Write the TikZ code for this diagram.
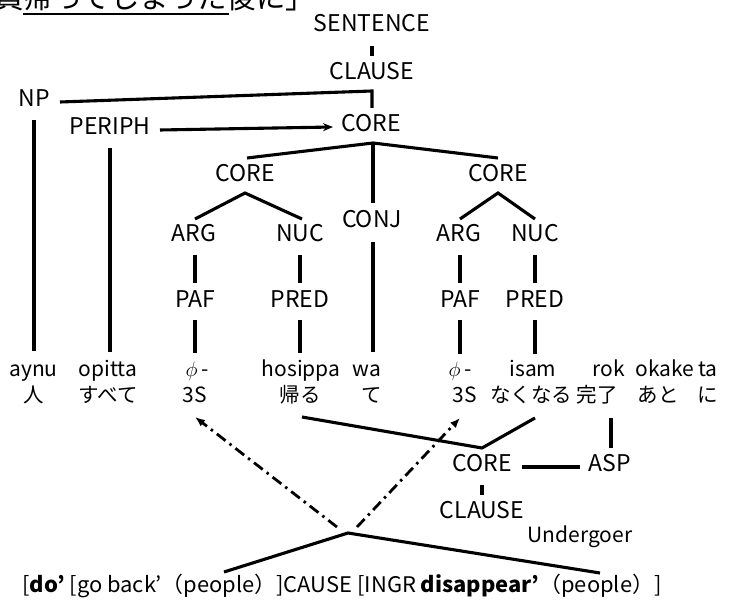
\documentclass[tikz,border=0pt]{standalone}
\usepackage{fontspec}
\usepackage{graphicx}
\setmainfont{Noto Sans CJK JP}
\newfontfamily\jpfont{Noto Sans CJK JP}
\usetikzlibrary{arrows.meta}
\begin{document}
\begin{tikzpicture}[x=1pt,y=-1pt,
  lbl/.style={anchor=base, inner sep=0pt, font=\fontsize{23}{27}\selectfont},
  word/.style={anchor=base, inner sep=0pt, font=\fontsize{21}{25}\selectfont},
  gloss/.style={anchor=base, inner sep=0pt, font=\jpfont\fontsize{20.5}{25}\selectfont},
  edge/.style={line width=3.1pt},
  dd/.style={line width=2.8pt, dash pattern=on 11pt off 5pt on 2.5pt off 5pt,
             -{Latex[length=10pt,width=8pt]}},
  sem/.style={anchor=base west, inner sep=0pt, font=\fontsize{21.5}{25}\selectfont}
]
\useasboundingbox (0,0) rectangle (729,601);

% heading line (partly cut off at the top)
\node[anchor=base west, inner sep=0pt, font=\jpfont\fontsize{29.4}{32}\selectfont] (head) at (-6,9) {員帰ってしまった後に」};
\draw[line width=1.6pt] ([xshift=29.4pt,yshift=-5pt]head.base west) -- ([xshift=235pt,yshift=-5pt]head.base west);

% tree labels
\node[lbl] (sent)    at (372,32)  {SENTENCE};
\node[lbl] (clauseT) at (372,80)  {CLAUSE};
\node[lbl] (np)      at (34,107)  {NP};
\node[lbl] (coreT)   at (371,132) {CORE};
\node[lbl] (periph)  at (110,135) {PERIPH};
\node[lbl] (coreL)   at (245,182) {CORE};
\node[lbl] (coreR)   at (498,182) {CORE};
\node[lbl] (conj)    at (372,228) {CONJ};
\node[lbl] (argL)    at (194,242) {ARG};
\node[lbl] (nucL)    at (300,242) {NUC};
\node[lbl] (argR)    at (459,242) {ARG};
\node[lbl] (nucR)    at (535,242) {NUC};
\node[lbl] (pafL)    at (195,308) {PAF};
\node[lbl] (predL)   at (300,308) {PRED};
\node[lbl] (pafR)    at (460,308) {PAF};
\node[lbl] (predR)   at (535,308) {PRED};

% Ainu words
\node[word] (w1)  at (33.5,377) {aynu};
\node[word] (w2)  at (108,377)  {opitta};
\node[word] (w3)  at (197,377)  {$\phi$\,-};
\node[word] (w4)  at (301,377)  {hosippa};
\node[word] (w5)  at (367,377)  {wa};
\node[word] (w6)  at (460,377)  {$\phi$\,-};
\node[word] (w7)  at (533,377)  {isam};
\node[word] (w8)  at (609,377)  {rok};
\node[word] (w9)  at (665,377)  {okake};
\node[word] (w10) at (708,377)  {ta};

% glosses
\node[gloss] (g1)  at (34,403)  {人};
\node[gloss] (g2)  at (108,403) {すべて};
\node[word]  (g3)  at (195,403) {3S};
\node[gloss] (g4)  at (300,403) {帰る};
\node[gloss] (g5)  at (372,403) {て};
\node[word]  (g6)  at (465,403) {3S};
\node[gloss] (g7)  at (531,403) {なくなる};
\node[gloss] (g8)  at (597,403) {完了};
\node[gloss] (g9)  at (658,403) {あと};
\node[gloss] (g10) at (708,403) {に};

% operator projection
\node[lbl] (coreB)   at (482,472) {CORE};
\node[lbl] (asp)     at (610,472) {ASP};
\node[lbl] (clauseB) at (482,519) {CLAUSE};
\node[word] (underg) at (580,543) {Undergoer};

% logical structure
\node[sem] (sem) at (22,593) {\scalebox{1.02}[1]{[\textbf{do’} [go back’（people）]CAUSE [INGR \textbf{disappear’}（people）]}};

% upper tree
\draw[edge] ([yshift=-14pt]sent.base) -- ([yshift=24pt]clauseT.base);
\coordinate (npj) at (372,91);
\draw[edge] ([xshift=26pt,yshift=5pt]np.base) -- (npj) -- ([xshift=1pt,yshift=24pt]coreT.base);
\draw[edge,-{Stealth[length=10pt,width=8pt]}] ([xshift=50pt,yshift=5pt]periph.base) -- ([xshift=-38pt,yshift=5pt]coreT.base);

\coordinate (tA) at ([xshift=2pt,yshift=-11pt]coreT.base);
\draw[edge] ([xshift=2pt,yshift=24pt]coreL.base) -- (tA) -- ([yshift=24pt]coreR.base);
\draw[edge] (tA) -- ([xshift=1pt,yshift=25pt]conj.base);
\draw[edge] ([xshift=1pt,yshift=-14pt]conj.base) -- ([xshift=6pt,yshift=25pt]w5.base);

\draw[edge] ([xshift=1pt,yshift=23pt]argL.base) -- ([yshift=-11pt]coreL.base) -- ([xshift=2pt,yshift=23pt]nucL.base);
\draw[edge] ([xshift=1pt,yshift=23pt]argR.base) -- ([yshift=-11pt]coreR.base) -- ([yshift=23pt]nucR.base);

\draw[edge] ([xshift=1pt,yshift=-13pt]argL.base) -- ([yshift=25pt]pafL.base);
\draw[edge] ([yshift=-12pt]pafL.base) -- ([xshift=-2pt,yshift=24pt]w3.base);
\draw[edge] ([yshift=-13pt]nucL.base) -- ([yshift=25pt]predL.base);
\draw[edge] ([yshift=-12pt]predL.base) -- ([xshift=-1pt,yshift=24pt]w4.base);
\draw[edge] ([xshift=1pt,yshift=-13pt]argR.base) -- ([yshift=25pt]pafR.base);
\draw[edge] ([yshift=-12pt]pafR.base) -- ([yshift=23pt]w6.base);
\draw[edge] ([yshift=-13pt]nucR.base) -- ([yshift=25pt]predR.base);
\draw[edge] ([yshift=-12pt]predR.base) -- ([xshift=2pt,yshift=23pt]w7.base);

\draw[edge] ([yshift=-13pt]np.base) -- ([xshift=0.5pt,yshift=26pt]w1.base);
\draw[edge] ([yshift=-13pt]periph.base) -- ([xshift=2pt,yshift=25pt]w2.base);

% lower projection
\coordinate (bA) at ([yshift=24pt]coreB.base);
\draw[edge] ([xshift=2pt,yshift=-14pt]g4.base) -- (bA) -- ([xshift=4pt,yshift=-15pt]g7.base);
\draw[edge] ([xshift=14pt,yshift=-15pt]g8.base) -- ([xshift=1pt,yshift=24pt]asp.base);
\draw[edge] ([xshift=40pt,yshift=5pt]coreB.base) -- ([xshift=-30pt,yshift=5pt]asp.base);
\draw[edge] ([yshift=-13pt]coreB.base) -- ([yshift=24pt]clauseB.base);

% linking to the logical structure
\coordinate (sA) at (348,533);
\draw[edge] ([xshift=202pt,yshift=21pt]sem.base west) -- (sA) -- ([xshift=578pt,yshift=20pt]sem.base west);
\draw[dd] ([xshift=-11pt,yshift=6pt]sA) -- ([yshift=-14pt]g3.base);
\draw[dd] ([xshift=9pt,yshift=6pt]sA) -- ([xshift=-5pt,yshift=-15pt]g6.base);
\end{tikzpicture}
\end{document}
